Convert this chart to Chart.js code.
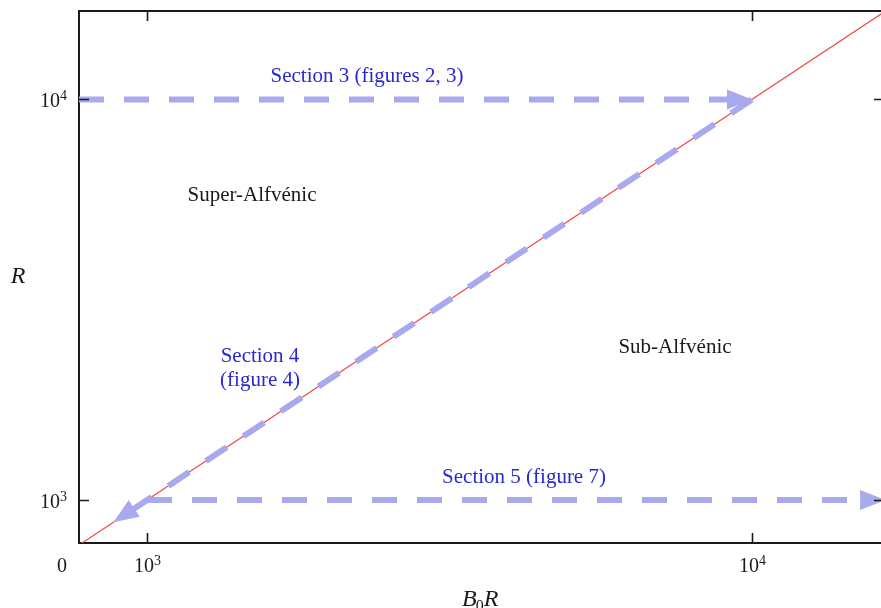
<!DOCTYPE html>
<html>
<head>
<meta charset="utf-8">
<script src="https://cdn.jsdelivr.net/npm/chart.js@4/dist/chart.umd.min.js"></script>
<style>
  html, body { margin: 0; padding: 0; background: #fff; }
  #wrap { width: 881px; height: 608px; position: relative; }
</style>
</head>
<body>
<div id="wrap"><canvas id="c"></canvas></div>
<script>
// Axis ranges (log scales) and tick marks
const xRange = [772, 16340];
const yRange = [781, 16630];
const tickValues = [1000, 10000];
const tickBase = ['10', '10'];
const tickExp = ['3', '4'];

// Alfvénic boundary: B0R = R
const boundaryX = [760, 17500];
const boundaryY = [760, 17500];

// Parameter sweeps (arrows), drawn from start to tip
const sweep3X = [772, 10000];     // Section 3: fixed R = 10^4
const sweep3Y = [10000, 10000];
const sweep4X = [10000, 880];     // Section 4: along the boundary
const sweep4Y = [10000, 880];
const sweep5X = [1000, 16600];    // Section 5: fixed R = 10^3
const sweep5Y = [1000, 1000];

const toPts = (xs, ys) => xs.map((x, i) => ({ x: x, y: ys[i] }));

const ARROW = '#a9a9ee';
const BLUE = '#2828d2';
const INK = '#1a1a1a';
const SERIF = '"Liberation Serif", "DejaVu Serif", serif';

const HEAD_LEN = 25, HEAD_HALF = 10;

function arrowSet(xs, ys) {
  return {
    data: toPts(xs, ys),
    borderColor: ARROW,
    borderWidth: 6,
    borderDash: [25, 20],
    borderCapStyle: 'butt',
    pointRadius: 0,
    tension: 0,
    fill: false,
    clip: false,
    order: 0,
    arrow: true
  };
}

// Pull the last vertex back so the shaft ends under the arrowhead; keep the tip.
const arrowPlugin = {
  id: 'arrows',
  afterDatasetsUpdate(chart) {
    chart.data.datasets.forEach((ds, i) => {
      if (!ds.arrow) return;
      const pts = chart.getDatasetMeta(i).data;
      const a = pts[pts.length - 2], b = pts[pts.length - 1];
      const dx = b.x - a.x, dy = b.y - a.y, L = Math.hypot(dx, dy);
      const ux = dx / L, uy = dy / L;
      ds._tip = { x: b.x, y: b.y, ux: ux, uy: uy };
      b.x = b.x - ux * (HEAD_LEN - 4);
      b.y = b.y - uy * (HEAD_LEN - 4);
    });
  },
  afterDatasetsDraw(chart) {
    const ctx = chart.ctx;
    chart.data.datasets.forEach((ds) => {
      if (!ds.arrow || !ds._tip) return;
      const t = ds._tip;
      const bx = t.x - t.ux * HEAD_LEN, by = t.y - t.uy * HEAD_LEN;
      const px = -t.uy, py = t.ux;
      ctx.save();
      ctx.fillStyle = ARROW;
      ctx.beginPath();
      ctx.moveTo(t.x, t.y);
      ctx.lineTo(bx + px * HEAD_HALF, by + py * HEAD_HALF);
      ctx.lineTo(bx - px * HEAD_HALF, by - py * HEAD_HALF);
      ctx.closePath();
      ctx.fill();
      ctx.restore();
    });
  }
};

// "10" with a raised exponent, centred (align 'center') or right-aligned at x
function powerLabel(ctx, base, exp, x, y, align) {
  ctx.font = '20px ' + SERIF;
  const wb = ctx.measureText(base).width;
  ctx.font = '14px ' + SERIF;
  const we = ctx.measureText(exp).width;
  const total = wb + we;
  const left = align === 'right' ? x - total : x - total / 2;
  ctx.textAlign = 'left';
  ctx.textBaseline = 'alphabetic';
  ctx.font = '20px ' + SERIF;
  ctx.fillText(base, left, y);
  ctx.font = '14px ' + SERIF;
  ctx.fillText(exp, left + wb, y - 7);
}

// Top frame line, inward tick marks, tick labels and the text annotations
const framePlugin = {
  id: 'frame',
  afterDraw(chart) {
    const { ctx, chartArea: ca, scales } = chart;
    const xs = scales.x, ys = scales.y;
    ctx.save();
    ctx.strokeStyle = INK;
    ctx.lineWidth = 2;
    ctx.beginPath();
    ctx.moveTo(ca.left - 1, ca.top);
    ctx.lineTo(ca.right, ca.top);
    ctx.stroke();

    ctx.lineWidth = 1.6;
    const tl = 10;
    tickValues.forEach((v, i) => {
      const px = Math.round(xs.getPixelForValue(v)) + 0.5;
      ctx.beginPath();
      ctx.moveTo(px, ca.bottom); ctx.lineTo(px, ca.bottom - tl);
      ctx.moveTo(px, ca.top); ctx.lineTo(px, ca.top + tl);
      ctx.stroke();
      const py = Math.round(ys.getPixelForValue(v)) + 0.5;
      ctx.beginPath();
      ctx.moveTo(ca.left, py); ctx.lineTo(ca.left + tl, py);
      ctx.moveTo(ca.right, py); ctx.lineTo(ca.right - 7, py);
      ctx.stroke();

      ctx.fillStyle = INK;
      powerLabel(ctx, tickBase[i], tickExp[i], px, ca.bottom + 29, 'center');
      powerLabel(ctx, tickBase[i], tickExp[i], ca.left - 12, py + 7, 'right');
    });

    ctx.textAlign = 'center';
    ctx.textBaseline = 'middle';
    const txt = (s, x, y, color) => {
      ctx.fillStyle = color;
      ctx.font = '21px ' + SERIF;
      ctx.fillText(s, x, y);
    };
    txt('Section 3 (figures 2, 3)', 367, 76, BLUE);
    txt('Super-Alfvénic', 252, 195, INK);
    txt('Sub-Alfvénic', 675, 347, INK);
    txt('Section 4', 260, 356, BLUE);
    txt('(figure 4)', 260, 380, BLUE);
    txt('Section 5 (figure 7)', 524, 477, BLUE);
    ctx.font = '20px ' + SERIF;
    ctx.fillStyle = INK;
    ctx.textBaseline = 'alphabetic';
    ctx.fillText('0', 62, 572);

    // axis titles
    ctx.textBaseline = 'alphabetic';
    ctx.font = 'italic 24px ' + SERIF;
    ctx.fillText('R', 18, 283);
    ctx.textAlign = 'left';
    ctx.fillText('B', 462, 606);
    const wB = ctx.measureText('B').width;
    ctx.font = '16px ' + SERIF;
    ctx.fillText('0', 462 + wB - 1, 611);
    const w0 = ctx.measureText('0').width;
    ctx.font = 'italic 24px ' + SERIF;
    ctx.fillText('R', 462 + wB + w0 - 1, 606);
    ctx.restore();
  }
};

new Chart(document.getElementById('c'), {
  type: 'line',
  data: {
    datasets: [
      {
        data: toPts(boundaryX, boundaryY),
        borderColor: '#f04848',
        borderWidth: 1.2,
        pointRadius: 0,
        fill: false,
        order: 10
      },
      arrowSet(sweep3X, sweep3Y),
      arrowSet(sweep4X, sweep4Y),
      arrowSet(sweep5X, sweep5Y)
    ]
  },
  options: {
    responsive: true,
    maintainAspectRatio: false,
    animation: false,
    events: [],
    layout: { padding: { top: 11, right: 0, left: 0, bottom: 0 } },
    plugins: { legend: { display: false }, tooltip: { enabled: false } },
    scales: {
      x: {
        type: 'logarithmic',
        min: xRange[0], max: xRange[1],
        grid: { display: false, drawTicks: false },
        border: { display: true, color: INK, width: 2 },
        afterBuildTicks: s => { s.ticks = tickValues.map(v => ({ value: v })); },
        afterFit: s => { s.height = 65; s.paddingLeft = 0; s.paddingRight = 0; },
        ticks: { display: false }
      },
      y: {
        type: 'logarithmic',
        min: yRange[0], max: yRange[1],
        grid: { display: false, drawTicks: false },
        border: { display: true, color: INK, width: 2 },
        afterBuildTicks: s => { s.ticks = tickValues.map(v => ({ value: v })); },
        afterFit: s => { s.width = 79; s.paddingTop = 0; s.paddingBottom = 0; },
        ticks: { display: false }
      }
    }
  },
  plugins: [arrowPlugin, framePlugin]
});
</script>
</body>
</html>
